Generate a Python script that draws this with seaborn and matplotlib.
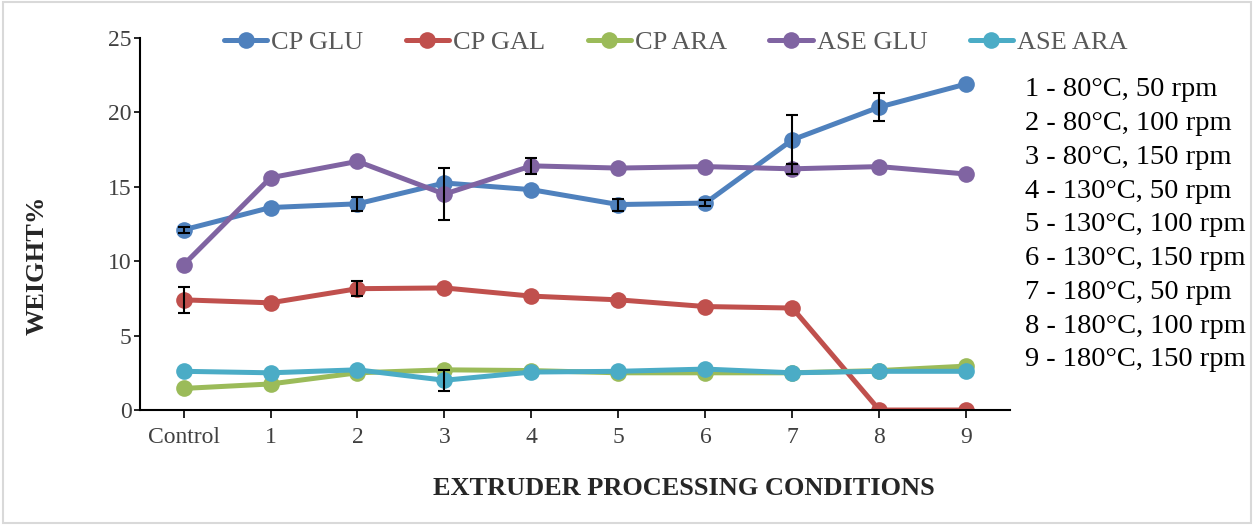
import numpy as np
import pandas as pd
import seaborn as sns
import matplotlib.pyplot as plt
from matplotlib.patches import Rectangle

conditions = ["Control", "1", "2", "3", "4", "5", "6", "7", "8", "9"]
series_names = ["CP GLU", "CP GAL", "CP ARA", "ASE GLU", "ASE ARA"]

cp_glu = [12.1, 13.6, 13.85, 15.25, 14.8, 13.8, 13.9, 18.15, 20.35, 21.9]
cp_gal = [7.4, 7.2, 8.15, 8.2, 7.65, 7.4, 6.95, 6.85, 0.0, 0.0]
cp_ara = [1.45, 1.75, 2.5, 2.7, 2.65, 2.5, 2.5, 2.5, 2.65, 2.95]
ase_glu = [9.75, 15.6, 16.7, 14.5, 16.4, 16.25, 16.35, 16.2, 16.35, 15.85]
ase_ara = [2.6, 2.5, 2.7, 2.0, 2.55, 2.6, 2.75, 2.5, 2.6, 2.6]

# standard deviations (0 = no bar visible)
cp_glu_err = [0.2, 0.0, 0.45, 0.0, 0.0, 0.4, 0.2, 1.65, 0.95, 0.0]
cp_gal_err = [0.87, 0.0, 0.5, 0.0, 0.0, 0.0, 0.0, 0.0, 0.0, 0.0]
cp_ara_err = [0.0] * 10
ase_glu_err = [0.0, 0.0, 0.0, 1.75, 0.55, 0.0, 0.0, 0.35, 0.0, 0.0]
ase_ara_err = [0.0, 0.0, 0.0, 0.7, 0.0, 0.0, 0.0, 0.0, 0.0, 0.0]

legend_notes = ["1 - 80°C, 50 rpm", "2 - 80°C, 100 rpm", "3 - 80°C, 150 rpm",
                "4 - 130°C, 50 rpm", "5 - 130°C, 100 rpm", "6 - 130°C, 150 rpm",
                "7 - 180°C, 50 rpm", "8 - 180°C, 100 rpm", "9 - 180°C, 150 rpm"]

colors = ["#4F81BD", "#C0504D", "#9BBB59", "#8064A2", "#4BACC6"]

values = [cp_glu, cp_gal, cp_ara, ase_glu, ase_ara]
errors = [cp_glu_err, cp_gal_err, cp_ara_err, ase_glu_err, ase_ara_err]

rows = []
for name, vals in zip(series_names, values):
    for i, v in enumerate(vals):
        rows.append({"pos": i, "series": name, "value": v})
df = pd.DataFrame(rows)

sns.set_style("white")
plt.rcParams["font.family"] = ["Liberation Serif", "DejaVu Serif"]

fig = plt.figure(figsize=(12.56, 5.25), dpi=100)
ax = fig.add_axes([0.1115, 0.219, 0.6925, 0.709])

sns.lineplot(data=df, x="pos", y="value", hue="series", hue_order=series_names,
             palette=colors, marker="o", markersize=12, linewidth=3.6,
             markeredgewidth=0, ax=ax, legend=True, sort=False)

x = np.arange(len(conditions))
for vals, errs in zip(values, errors):
    errs = np.array(errs)
    m = errs > 0
    ax.errorbar(x[m], np.array(vals)[m], yerr=errs[m], fmt="none",
                ecolor="black", elinewidth=1.5, capsize=4, capthick=1.5, zorder=5)

ax.set_xlim(-0.5, len(conditions) - 0.5)
ax.set_ylim(0, 25)
ax.set_yticks([0, 5, 10, 15, 20, 25])
ax.set_xticks(x)
ax.set_xticklabels(conditions)
ax.tick_params(axis="both", labelsize=17, labelcolor="#404040", direction="out",
               length=6, width=1.2, color="black", bottom=True, left=True)
ax.tick_params(axis="x", pad=6)
ax.tick_params(axis="y", pad=2, length=4)

for s in ["top", "right"]:
    ax.spines[s].set_visible(False)
for s in ["left", "bottom"]:
    ax.spines[s].set_color("black")
    ax.spines[s].set_linewidth(1.5)

ax.set_xlabel("EXTRUDER PROCESSING CONDITIONS", fontsize=19, fontweight="bold")
ax.set_ylabel("WEIGHT%", fontsize=19, fontweight="bold")
ax.xaxis.set_label_coords(0.625, -0.18)
ax.yaxis.set_label_coords(-0.105, 0.39)

handles, labels = ax.get_legend_handles_labels()
leg = ax.legend(handles, labels, loc="center", bbox_to_anchor=(0.538, 0.92),
                bbox_transform=fig.transFigure, ncol=5, frameon=False,
                fontsize=19, handlelength=1.65, columnspacing=1.6, handletextpad=0.15)
for t in leg.get_texts():
    t.set_color("#595959")

for i, note in enumerate(legend_notes):
    fig.text(0.816, 0.829 - i * 0.0643, note, fontsize=20.5, color="black", va="center")

fig.patches.append(Rectangle((0.002, 0.004), 0.994, 0.992, transform=fig.transFigure,
                             fill=False, edgecolor="#d9d9d9", linewidth=1.5))

fig.savefig("out.png", dpi=100)
